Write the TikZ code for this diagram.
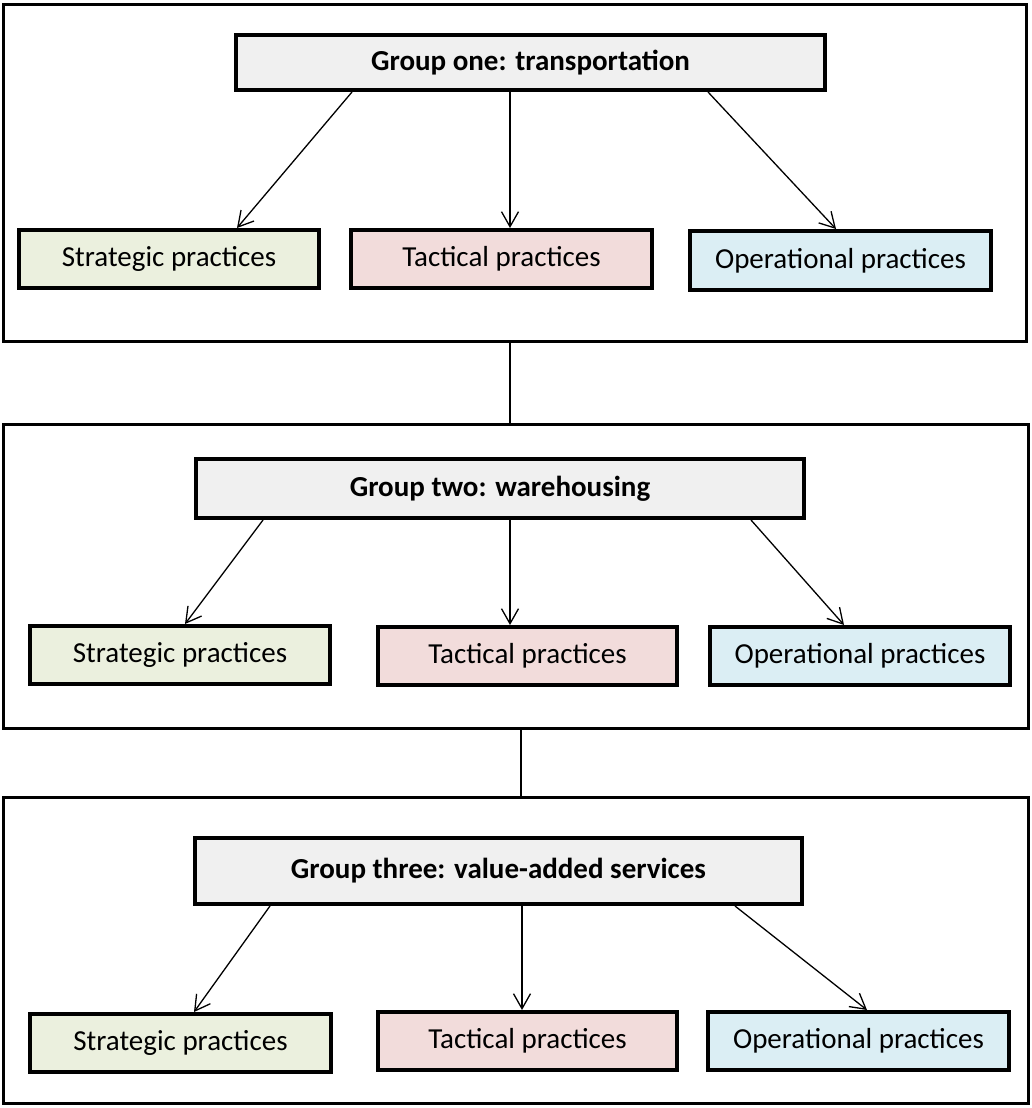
\documentclass[tikz,border=0pt]{standalone}
\usepackage{fontspec}
\setmainfont{Carlito}
\usetikzlibrary{arrows.meta}
\definecolor{headfill}{HTML}{F0F0F0}
\definecolor{stratfill}{HTML}{EBF0DE}
\definecolor{tactfill}{HTML}{F2DCDB}
\definecolor{operfill}{HTML}{DBEEF4}
\tikzset{
  frame/.style={draw=black, line width=3.2pt, fill=white, inner sep=0pt},
  box/.style={draw=black, line width=4pt, inner sep=0pt, minimum height=58pt,
    minimum width=300pt, font=\fontsize{29}{35}\selectfont},
  headbox/.style={box, fill=headfill, font=\fontsize{29}{35}\selectfont\bfseries},
  stratbox/.style={box, fill=stratfill},
  tactbox/.style={box, fill=tactfill},
  operbox/.style={box, fill=operfill},
  arr/.style={line width=1.3pt, -{Straight Barb[length=15pt,width=17pt,line width=1.3pt]}},
  link/.style={line width=1.3pt}
}
\begin{document}
\begin{tikzpicture}[x=1pt,y=-1pt]
\useasboundingbox (0,0) rectangle (1032,1108);

% outer frames
\node[frame, minimum width=1023pt, minimum height=337pt] (f1) at (515,173) {};
\node[frame, minimum width=1025pt, minimum height=304pt] (f2) at (516,576.5) {};
\node[frame, minimum width=1025pt, minimum height=306pt] (f3) at (516,950.5) {};

% group one
\node[headbox, minimum width=589pt, minimum height=55pt] (g1) at (530.5,62.5) {Group one: transportation};
\node[stratbox] (s1) at (169,259) {Strategic practices};
\node[tactbox, minimum width=301pt] (t1) at (501.5,259) {Tactical practices};
\node[operbox, minimum width=301pt, minimum height=59pt] (o1) at (840.5,260.5) {Operational practices};

% group two
\node[headbox, minimum width=608pt, minimum height=59pt] (g2) at (500,488.5) {Group two: warehousing};
\node[stratbox] (s2) at (180,655) {Strategic practices};
\node[tactbox, minimum width=299pt] (t2) at (527.5,656) {Tactical practices};
\node[operbox] (o2) at (860,656) {Operational practices};

% group three
\node[headbox, minimum width=607pt, minimum height=66pt] (g3) at (498.5,871) {Group three: value-added services};
\node[stratbox, minimum width=301pt] (s3) at (180.5,1043) {Strategic practices};
\node[tactbox, minimum width=299pt] (t3) at (527.5,1041) {Tactical practices};
\node[operbox, minimum width=301pt] (o3) at (858.5,1041) {Operational practices};

% arrows inside each group
\draw[arr] ([xshift=-178.5]g1.south) -- ([xshift=68]s1.north);
\draw[arr] ([xshift=-20.5]g1.south) -- ([xshift=8.5]t1.north);
\draw[arr] ([xshift=177.5]g1.south) -- ([xshift=-4.5]o1.north);

\draw[arr] ([xshift=-237]g2.south) -- ([xshift=5]s2.north);
\draw[arr] ([xshift=10]g2.south) -- ([xshift=-17.5]t2.north);
\draw[arr] ([xshift=251]g2.south) -- ([xshift=-16]o2.north);

\draw[arr] ([xshift=-228.5]g3.south) -- ([xshift=13.5]s3.north);
\draw[arr] ([xshift=23.5]g3.south) -- ([xshift=-5.5]t3.north);
\draw[arr] ([xshift=236.5]g3.south) -- ([xshift=8.5]o3.north);

% links between frames
\draw[link] ([xshift=-5]f1.south) -- ([xshift=-6]f2.north);
\draw[link] ([xshift=5]f2.south) -- ([xshift=5]f3.north);
\end{tikzpicture}
\end{document}
